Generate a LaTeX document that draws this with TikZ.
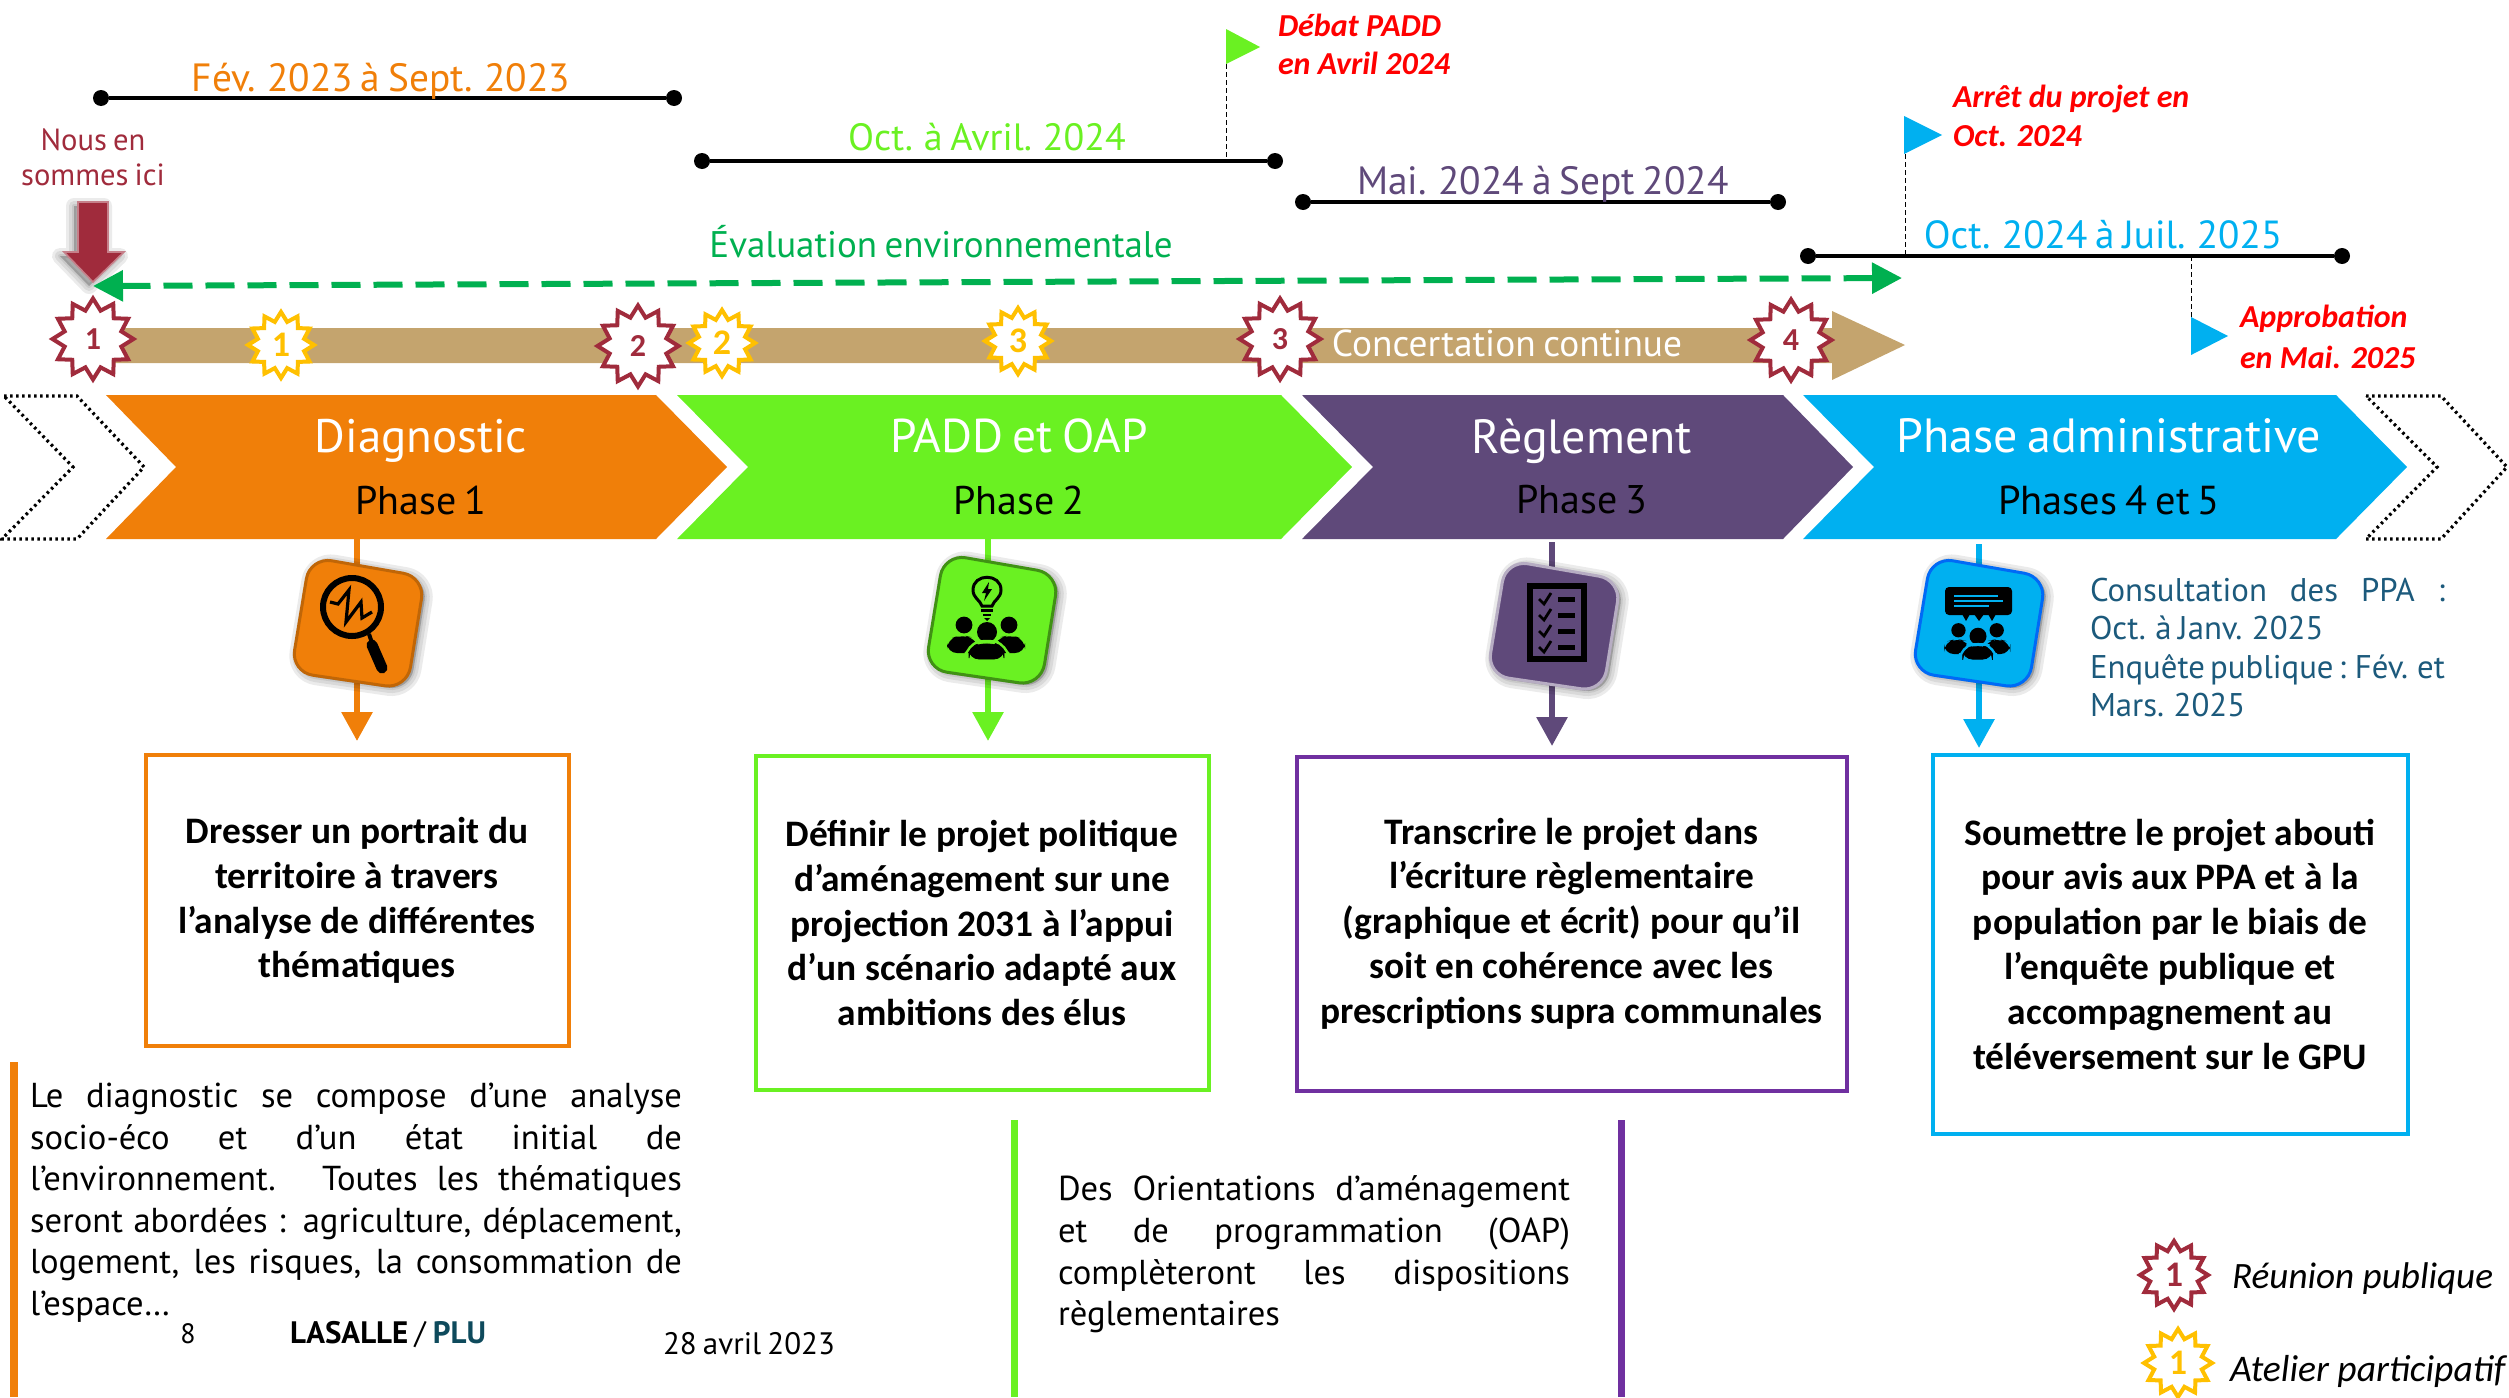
\documentclass[tikz,border=0pt]{standalone}
\usepackage{fontspec}
\setmainfont{Carlito}
\newfontfamily\fgfam[WordSpace=0.75]{PT Sans}
\usetikzlibrary{arrows.meta,shapes.geometric}
\definecolor{cor}{HTML}{F07F09}
\definecolor{cgr}{HTML}{6AF122}
\definecolor{cpu}{HTML}{5F497A}
\definecolor{cbl}{HTML}{00B0F0}
\definecolor{cma}{HTML}{A02B3C}
\definecolor{cye}{HTML}{FFC000}
\definecolor{cev}{HTML}{00B050}
\definecolor{cta}{HTML}{C4A46E}
\definecolor{cbp}{HTML}{7030A0}
\definecolor{ctx}{HTML}{1C5A7C}
\definecolor{cpl}{HTML}{0E4A5C}
\newcommand{\fg}[2]{\fontsize{#1}{#2}\selectfont\fgfam}
\newcommand{\cb}[2]{\fontsize{#1}{#2}\selectfont\bfseries}
\tikzset{
  lbl/.style={inner sep=0pt,outer sep=0pt},
  dotnode/.style={circle,fill=black,minimum size=8pt,inner sep=0pt,outer sep=0pt},
  span/.style={line width=2pt,black},
  drop/.style={black,line width=.5pt,dash pattern=on 2.5pt off 1.5pt},
  chev/.style={line width=1.6pt,black,dash pattern=on 1.3pt off 1.7pt},
  starbase/.style={star,star points=12,star point ratio=1.38,draw=#1,fill=white,line width=2pt,inner sep=0pt,outer sep=0pt,text=#1},
  rstar/.style={starbase=cma,minimum size=40.5pt,font=\cb{16}{16}},
  ystar/.style={starbase=cye,minimum size=33pt,font=\cb{18}{18}},
  tbox/.style={draw=#1,line width=2pt,fill=white,align=center,inner sep=0pt,font=\cb{18.7}{22.4}},
  down/.style={line width=3pt,#1,-{Triangle[length=14.5pt,width=15pt]}},
  red/.style={lbl,anchor=west,text=red,font=\fontsize{16}{16}\selectfont\bfseries\itshape},
}
\newcommand{\iconframe}[4]{%
  \begin{scope}[shift={(#3,#4)}]
    \foreach \w in {8,5,2}{
      \draw[black,opacity=.08,line width=\w pt,line join=round,rounded corners=11pt,fill=black]
        (313,559)--(428,579)--(410,691)--(294,674)--cycle;}
    \draw[fill=#1,draw=#2,line width=1.5pt,rounded corners=11pt]
        (310,557)--(425,577)--(407,689)--(291,672)--cycle;
  \end{scope}}
\newcommand{\peoplegl}[4]{%
  \begin{scope}[shift={(#1,#2)},scale=#3]
    \fill[black] (-23,-15) circle[radius=4.2pt];
    \fill[black] (22,-15) circle[radius=4.2pt];
    \fill[black,rounded corners=5pt] (-40,13)--(-40,-1)--(-25,-5)--(-12,-2)--(-5,13)--cycle;
    \fill[black,rounded corners=5pt] (38,13)--(38,-1)--(23,-5)--(10,-2)--(3,13)--cycle;
    \fill[black] (0,-8) circle[radius=5pt];
    \draw[black,fill=black,rounded corners=5pt] (-18,19)--(-18,8)--(0,2)--(17,8)--(17,19)--cycle;
    \draw[#4,line width=1.2pt,rounded corners=6pt] (-21,12)--(-20,5)--(0,-1)--(20,5)--(21,12);
  \end{scope}}
\begin{document}
\begin{tikzpicture}[x=0.5pt,y=-0.5pt]
\useasboundingbox (0,0) rectangle (2509,1397);
% time spans
\node[dotnode] (s1a) at (101,98) {};
\node[dotnode] (s1b) at (674,98) {};
\draw[span] (s1a)--(s1b);
\node[dotnode] (s2a) at (702,161) {};
\node[dotnode] (s2b) at (1275,161) {};
\draw[span] (s2a)--(s2b);
\node[dotnode] (s3a) at (1303,202) {};
\node[dotnode] (s3b) at (1778,202) {};
\draw[span] (s3a)--(s3b);
\node[dotnode] (s4a) at (1808,256) {};
\node[dotnode] (s4b) at (2342,256) {};
\draw[span] (s4a)--(s4b);
\node[lbl,text=cor,font=\fg{19.7}{20}] (t1) at (381,81) {Fév. 2023 à Sept. 2023};
\node[lbl,text=cgr,font=\fg{19}{19}] (t2) at (987,137) {Oct. à Avril. 2024};
\node[lbl,text=cpu,font=\fg{19.7}{20}] (t3) at (1543,184) {Mai. 2024 à Sept 2024};
\node[lbl,text=cbl,font=\fg{19.6}{20}] (t4) at (2103,235) {Oct. 2024 à Juil. 2025};
% flags
\coordinate (f1a) at (1226,64); \coordinate (f1b) at (1226,161);
\draw[drop] (f1a)--(f1b);
\fill[cgr] (1226,29)--(1260,47)--(1226,64)--cycle;
\coordinate (f2a) at (1905,154); \coordinate (f2b) at (1905,256);
\draw[drop] (f2a)--(f2b);
\fill[cbl] (1904,116)--(1942,135)--(1904,154)--cycle;
\coordinate (f3a) at (2191,256); \coordinate (f3b) at (2191,317);
\draw[drop] (f3a)--(f3b);
\fill[cbl] (2191,317)--(2228,336)--(2191,355)--cycle;
\node[red] (r1) at (1278,25) {Débat PADD};
\node[red] (r2) at (1278,63) {en Avril 2024};
\node[red] (r3) at (1953,99) {Arrêt du projet en};
\node[red] (r4) at (1953,136) {Oct. 2024};
\node[red] (r5) at (2240,319) {Approbation};
\node[red] (r6) at (2240,357) {en Mai. 2025};
% here
\node[lbl,text=cma,align=center,font=\fg{15.3}{17.5}] (ici) at (93,157) {Nous en\\sommes ici};
\foreach \w in {8,5,2}{\draw[black,opacity=.08,line width=\w pt,line join=round,fill=black] (74,206)--(104,206)--(104,256)--(120,256)--(89,286)--(60,256)--(74,256)--cycle;}
\draw[fill=cma,draw=cma!60!white,line width=.8pt] (78,202)--(108,202)--(108,252)--(124,252)--(93,282)--(64,252)--(78,252)--cycle;
% evaluation
\node[lbl,text=cev,font=\fg{18.5}{19}] (ev) at (941,242) {Évaluation environnementale};
\coordinate (eva) at (93,286); \coordinate (evb) at (1902,278);
\draw[cev,line width=3pt,dash pattern=on 14.5pt off 6.5pt,{Triangle[length=15pt,width=15pt]}-{Triangle[length=15pt,width=15pt]}] (eva)--(evb);
% concertation bar
\fill[cta] (100,328)--(1832,328)--(1832,311)--(1905,345)--(1832,380)--(1832,363)--(100,363)--cycle;
\node[lbl,text=white,font=\fg{18.7}{19}] (cc) at (1507,343) {Concertation continue};
\node[rstar] (m1) at (93,339) {1};
\node[ystar] (y1) at (281,345) {1};
\node[rstar] (m2) at (638,346) {2};
\node[ystar] (y2) at (722,343) {2};
\node[ystar] (y3) at (1018,341) {3};
\node[rstar] (m3) at (1280,339) {3};
\node[rstar] (m4) at (1791,340) {4};
% chevrons
\draw[chev] (4,396)--(77,396)--(144,467)--(77,539)--(2,539)--(73,467)--cycle;
\draw[chev] (2366,396)--(2441,396)--(2507,467)--(2441,539)--(2366,539)--(2437,467)--cycle;
\fill[cor] (106,395)--(656,395)--(727,467)--(656,539)--(106,539)--(176,467)--cycle;
\fill[cgr] (677,395)--(1281,395)--(1352,467)--(1281,539)--(677,539)--(748,467)--cycle;
\fill[cpu] (1302,395)--(1783,395)--(1853,467)--(1783,539)--(1302,539)--(1373,467)--cycle;
\fill[cbl] (1803,395)--(2336,395)--(2407,467)--(2336,539)--(1803,539)--(1874,467)--cycle;
\node[lbl,text=white,font=\fg{23.5}{23}] (h1) at (421,441) {Diagnostic};
\node[lbl,text=white,font=\fg{23.7}{23}] (h2) at (1019,436) {PADD et OAP};
\node[lbl,text=white,font=\fg{24}{23}] (h3) at (1582,441) {Règlement};
\node[lbl,text=white,font=\fg{24}{23}] (h4) at (2109,436) {Phase administrative};
\node[lbl,font=\fg{20}{18}] (p1) at (421,500) {Phase 1};
\node[lbl,font=\fg{20}{18}] (p2) at (1019,500) {Phase 2};
\node[lbl,font=\fg{20}{18}] (p3) at (1582,500) {Phase 3};
\node[lbl,font=\fg{20.2}{18}] (p4) at (2109,500) {Phases 4 et 5};
% boxes
\node[tbox=cor,minimum width=211.5pt,minimum height=145.5pt] (b1) at (357,900.5) {Dresser un portrait du\\territoire à travers\\l’analyse de différentes\\thématiques};
\node[tbox=cgr,minimum width=226.5pt,minimum height=167pt] (b2) at (982,923) {Définir le projet politique\\d’aménagement sur une\\projection 2031 à l’appui\\d’un scénario adapté aux\\ambitions des élus};
\node[tbox=cbp,minimum width=275pt,minimum height=167pt] (b3) at (1571.5,923.5) {Transcrire le projet dans\\l’écriture règlementaire\\(graphique et écrit) pour qu’il\\soit en cohérence avec les\\prescriptions supra communales};
\node[tbox=cbl,minimum width=237.5pt,minimum height=189.5pt] (b4) at (2170,944) {Soumettre le projet abouti\\pour avis aux PPA et à la\\population par le biais de\\l’enquête publique et\\accompagnement au\\téléversement sur le GPU};
% connectors
\coordinate (a1a) at (357,539); \coordinate (a1b) at (357,741);
\coordinate (a2a) at (988,539); \coordinate (a2b) at (988,741);
\coordinate (a3a) at (1552,542); \coordinate (a3b) at (1552,746);
\coordinate (a4a) at (1979,544); \coordinate (a4b) at (1979,748);
\draw[down=cor] (a1a)--(a1b);
\draw[down=cgr] (a2a)--(a2b);
\draw[down=cpu] (a3a)--(a3b);
\draw[down=cbl] (a4a)--(a4b);
% icon frames
\iconframe{cor}{cor!80!black}{0}{0}
\iconframe{cgr}{cgr!60!black}{634}{-3}
\iconframe{cpu}{cpu!45!white}{1196}{3}
\iconframe{cbl}{cbl!60!blue}{1621}{0}
% magnifier
\draw[black,line width=3pt] (352,607) circle[radius=14.5pt];
\draw[black,line width=5.5pt,line cap=round] (372,645)--(382,668);
\draw[black,line width=2pt] (369,634)--(373,646);
\draw[black,line width=1.6pt] (330,602)--(338,604)--(349,590)--(346,622)--(361,602)--(362,618)--(372,612);
% bulb and people
\draw[black,line width=1.5pt] (982,606)..controls (980,600) and (973,598) .. (973,590)..controls (973,573) and (1001,573) .. (1001,590)..controls (1001,598) and (994,600) .. (992,606)--cycle;
\fill[black] (989,582)--(982,593)--(986,593)--(984,601)--(992,589)--(988,589)--cycle;
\fill[black] (981,609) rectangle (993,612);
\fill[black] (983,614) rectangle (991,616);
\fill[black] (984,618)--(990,618)--(987,621)--cycle;
\peoplegl{987}{640}{1}{cgr}
% checklist
\draw[black,line width=3pt] (1530,586) rectangle (1584,659);
\foreach \yy in {599,615,631,647}{
  \draw[black,line width=1.4pt] (1539,\yy)--(1544,\yy+5)--(1551,\yy-6);
  \fill[black] (1558,\yy-2) rectangle (1575,\yy+3);}
% bubble and people
\fill[black,rounded corners=2pt] (1945,587) rectangle (2012,615);
\fill[black] (1962,614)--(1970,614)--(1966,621)--cycle;
\fill[black] (1974,614)--(1984,614)--(1979,621)--cycle;
\fill[black] (1988,614)--(1996,614)--(1992,621)--cycle;
\draw[cbl,line width=.8pt] (1954,596)--(1998,596) (1954,601)--(2003,601) (1954,606)--(1989,606);
\peoplegl{1978}{643}{.85}{cbl}
% consultation text
\node[lbl,anchor=north west,text=ctx,align=left,font=\fg{16.4}{19.2}] (cons) at (2090,578) {\makebox[177.5pt][s]{Consultation des PPA :}\\Oct. à Janv. 2025\\\makebox[177.5pt][s]{Enquête publique : Fév. et}\\Mars. 2025};
% side texts
\fill[cor] (10,1062) rectangle (18,1397);
\fill[cgr] (1011,1120) rectangle (1018,1397);
\fill[cbp] (1618,1120) rectangle (1625,1397);
\node[lbl,anchor=north west,text width=326pt,align=justify,font=\fg{17.3}{20.8}] (diag) at (30,1083) {Le diagnostic se compose d’une analyse\linebreak socio-éco et d’un état initial de\linebreak l’environnement. Toutes les thématiques\linebreak seront abordées : agriculture, déplacement,\linebreak logement, les risques, la consommation de\linebreak l’espace…};
\node[lbl,anchor=north west,text width=256pt,align=justify,font=\fg{17.3}{20.8}] (oap) at (1058,1176) {Des Orientations d’aménagement\linebreak et de programmation (OAP)\linebreak complèteront les dispositions\linebreak règlementaires};
% footer
\node[lbl,font=\fg{14}{14}] (pg) at (188,1334) {8};
\node[lbl,anchor=west,font=\fg{15.5}{14}] (las) at (290,1335) {\textbf{LASALLE} / \textbf{\textcolor{cpl}{PLU}}};
\node[lbl,font=\fg{15.5}{14}] (dt) at (749,1344) {28 avril 2023};
% legend
\node[starbase=cma,minimum size=34pt,font=\cb{18}{18}] (lg1) at (2174,1275) {1};
\node[starbase=cye,minimum size=34pt,font=\cb{18}{18}] (lg2) at (2178,1363) {1};
\node[lbl,anchor=west,font=\fontsize{18.6}{19}\selectfont\itshape] (lt1) at (2232,1279) {Réunion publique};
\node[lbl,anchor=west,font=\fontsize{18.8}{19}\selectfont\itshape] (lt2) at (2230,1371) {Atelier participatif};
\end{tikzpicture}
\end{document}
